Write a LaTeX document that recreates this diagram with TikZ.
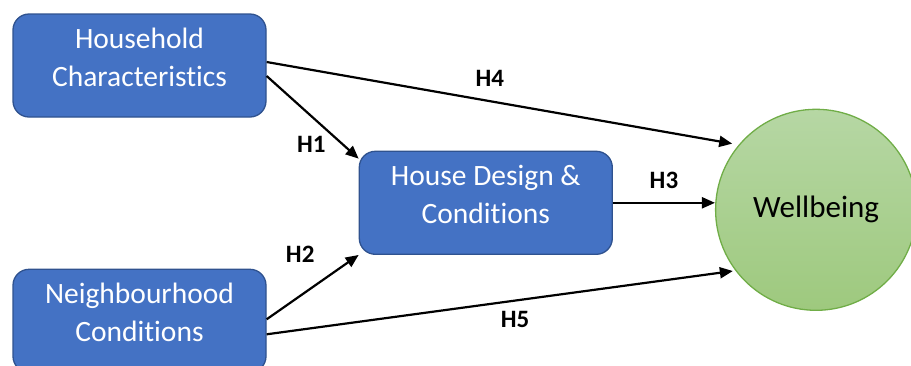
\documentclass[tikz,border=0pt]{standalone}
\usepackage{fontspec}
\setmainfont{Carlito}[Ligatures=NoCommon]
\usetikzlibrary{arrows.meta,positioning}
\usepackage{xcolor}
\definecolor{boxblue}{RGB}{68,114,196}
\definecolor{boxedge}{RGB}{47,82,143}
\definecolor{wellgreen}{RGB}{112,173,71}
\definecolor{greentop}{RGB}{182,215,164}
\definecolor{greenbot}{RGB}{158,201,126}

\begin{document}
\begin{tikzpicture}[x=1pt,y=-1pt,->,>={Triangle[length=13pt,width=11pt]},line width=2.2pt]
  \tikzstyle{factor}=[draw=boxedge,line width=1.3pt,fill=boxblue,rounded corners=16pt,text=white,minimum width=253pt,minimum height=103pt,align=center,text depth=17pt,font=\fontsize{29.5}{38}\selectfont]
  \tikzstyle{outcome}=[circle,draw=wellgreen,line width=1.3pt,top color=greentop,bottom color=greenbot,minimum size=201pt,inner sep=0pt,font=\fontsize{31}{36}\selectfont]
  \tikzstyle{hyp}=[font=\bfseries\fontsize{25}{30}\selectfont,text=black]

  \useasboundingbox (0,0) rectangle (911,365);

  \node[factor]  (hh)                                        at (139.5,65.5) {Household\\Characteristics};
  \node[factor]  (design) [below right=33pt and 92pt of hh]                  {House Design \&\\Conditions};
  \node[factor]  (nb)     [below=151pt of hh]                                {Neighbourhood\\Conditions};
  \node[outcome] (wb)     [right=102pt of design,yshift=-7pt]                {Wellbeing};

  \draw[shorten >=6.5pt] ([yshift=3.5pt]hh.east) -- node[hyp,pos=0.473,above=10pt] {H4} (wb.140);
  \draw ([yshift=-10.5pt]hh.east) -- node[hyp,pos=0.7,below left=-2pt and 1pt] {H1} ([yshift=-8pt]design.north west);
  \draw ([yshift=1.5pt]nb.east) -- node[hyp,pos=0.6,above left=14pt and 3pt] {H2} (design.south west);
  \draw (design.east) -- node[hyp,above=10pt] {H3} (wb.west |- design.east);
  \draw[shorten >=2.5pt] ([yshift=-13.5pt]nb.east) -- node[hyp,pos=0.53,below=6.5pt] {H5} (wb.217);
\end{tikzpicture}
\end{document}
